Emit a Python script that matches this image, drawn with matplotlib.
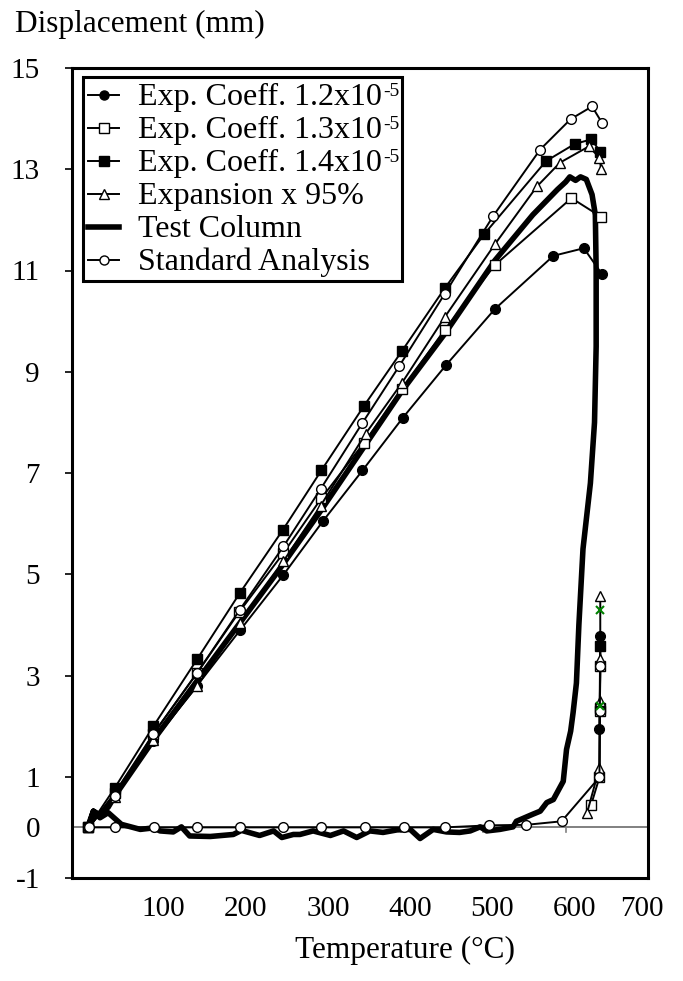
import matplotlib
matplotlib.use("Agg")
import matplotlib.pyplot as plt
from matplotlib.transforms import ScaledTranslation, Affine2D, IdentityTransform
from matplotlib.lines import Line2D
from matplotlib.patches import Rectangle

plt.rcParams['font.family'] = ['Liberation Serif', 'DejaVu Serif']
plt.rcParams['axes.unicode_minus'] = False

# ---------------- data (Temperature °C, Displacement mm) ----------------
# Exp. Coeff. 1.2x10^-5
t12_up = [20, 52, 99, 152, 204, 257, 305, 353, 402, 455, 514, 585, 622, 644]
d12_up = [0.0, 0.66, 1.7, 2.8, 3.89, 4.99, 6.05, 7.05, 8.09, 9.14, 10.24, 11.29, 11.44, 10.93]
t12_dn = [641, 642]
d12_dn = [1.95, 3.79]
# Exp. Coeff. 1.3x10^-5
t13_up = [20, 52, 99, 152, 203, 257, 303, 355, 401, 453, 514, 607, 643]
d13_up = [0.0, 0.68, 1.85, 3.05, 4.25, 5.42, 6.5, 7.6, 8.65, 9.83, 11.11, 12.43, 12.06]
t13_dn = [631, 641, 641.5, 642]
d13_dn = [0.45, 0.99, 2.29, 3.18]
# Exp. Coeff. 1.4x10^-5
t14_up = [20, 52, 99, 152, 204, 256, 303, 355, 401, 453, 501, 576, 611, 631, 642]
d14_up = [0.0, 0.78, 2.0, 3.32, 4.63, 5.87, 7.05, 8.33, 9.41, 10.65, 11.72, 13.16, 13.5, 13.59, 13.35]
t14_dn = [641.5, 642]
d14_dn = [2.35, 3.58]
# Expansion x 95%
t95_up = [20, 52, 99, 152, 204, 257, 302, 357, 401, 453, 514, 565, 593, 628, 641, 643]
d95_up = [0.0, 0.6, 1.72, 2.79, 4.04, 5.26, 6.35, 7.78, 8.78, 10.08, 11.52, 12.66, 13.13, 13.45, 13.23, 13.0]
t95_dn = [626, 641, 641.5, 642, 642]
d95_dn = [0.29, 1.18, 2.5, 3.33, 4.58]
# Standard Analysis
tsa_up = [20, 52, 99, 152, 204, 257, 302, 353, 398, 453, 512, 569, 606, 632, 644]
dsa_up = [0.0, 0.62, 1.85, 3.05, 4.3, 5.55, 6.68, 7.99, 9.12, 10.54, 12.08, 13.39, 13.99, 14.24, 13.92]
tsa_dn = [21, 52, 100, 152, 204, 256, 303, 356, 403, 453, 507, 552, 595, 641, 641.5, 642]
dsa_dn = [0.0, 0.0, 0.0, 0.0, 0.0, 0.0, 0.0, 0.0, 0.0, 0.0, 0.04, 0.05, 0.12, 0.99, 2.29, 3.18]
# extra single points (green x)
tx = [642, 641.5]
dx = [4.3, 2.4]
# Test Column (heating, failure, cooling)
ttc = [20, 26, 34, 44, 52, 100, 150, 200, 250, 300, 350, 400, 453, 514, 560, 590,
       600, 605, 612, 618, 625, 632, 636, 637, 637, 635, 630, 621, 616, 613, 609,
       606, 601, 597, 585, 577, 569, 560, 540, 536, 520, 504, 496, 484, 471, 455,
       439, 423, 411, 395, 378, 362, 346, 330, 314, 293, 277, 269, 255, 245, 228,
       206, 196, 168, 143, 133, 123, 107, 99, 83, 60, 44, 34, 26, 20]
dtc = [0.0, 0.32, 0.25, 0.4, 0.62, 1.75, 2.85, 3.95, 5.05, 6.2, 7.4, 8.6, 9.75, 11.2,
       12.1, 12.6, 12.75, 12.85, 12.78, 12.85, 12.8, 12.5, 12.1, 11.0, 9.5, 8.0, 6.8,
       5.5, 4.0, 2.85, 2.27, 1.9, 1.54, 0.91, 0.55, 0.49, 0.32, 0.26, 0.12, 0.01,
       -0.04, -0.07, 0.01, -0.07, -0.1, -0.09, -0.04, -0.22, -0.04, -0.05, -0.1,
       -0.07, -0.2, -0.07, -0.16, -0.07, -0.14, -0.14, -0.2, -0.07, -0.16, -0.06,
       -0.14, -0.18, -0.17, 0.01, -0.09, -0.07, -0.01, -0.04, 0.06, 0.29, 0.19, 0.32, 0.05]

labels = ['Exp. Coeff. 1.2x10', 'Exp. Coeff. 1.3x10', 'Exp. Coeff. 1.4x10',
          'Expansion x 95%', 'Test Column', 'Standard Analysis']
label_sup = ['-5', '-5', '-5', '', '', '']
xticks = [100, 200, 300, 400, 500, 600, 700]
yticks = [-1, 0, 1, 3, 5, 7, 9, 11, 13, 15]

# ---------------- figure ----------------
W, H = 683, 981
fig = plt.figure(figsize=(W / 100, H / 100), dpi=100)
ax = fig.add_axes([72 / W, 1 - 878 / H, (648 - 72) / W, (878 - 68) / H])
ax.set_xlim(0, 700)
ax.set_ylim(-1, 15)

LW = 1.4
MS = 7.0
MEW = 1.0
common = dict(color='black', lw=LW, mew=MEW, ms=MS, mec='black', zorder=3)

ax.axhline(0, color='#808080', lw=1.4, zorder=1)
for xt in xticks:
    ax.plot([xt, xt], [0, -0.09], color='#808080', lw=1.2, zorder=1)

ax.plot(ttc, dtc, color='black', lw=4.0, solid_joinstyle='round', zorder=2)

ax.plot(t12_up, d12_up, marker='o', mfc='black', **common)
ax.plot(t12_dn, d12_dn, marker='o', mfc='black', **common)
ax.plot(t13_up, d13_up, marker='s', mfc='white', **common)
ax.plot(t13_dn, d13_dn, marker='s', mfc='white', **common)
ax.plot(t14_up, d14_up, marker='s', mfc='black', **common)
ax.plot(t14_dn, d14_dn, marker='s', mfc='black', **common)
ax.plot(t95_up, d95_up, marker='^', mfc='white', **common)
ax.plot(t95_dn, d95_dn, marker='^', mfc='white', **common)
ax.plot(tsa_up, dsa_up, marker='o', mfc='white', **common)
ax.plot(tsa_dn, dsa_dn, marker='o', mfc='white', **common)
ax.plot(tx, dx, ls='none', marker='x', color='#008000', ms=6, mew=1.5, zorder=4)

# axes styling
for s in ax.spines.values():
    s.set_linewidth(2.2)
ax.set_xticks(xticks)
ax.set_yticks(yticks)
ax.tick_params(axis='x', length=0, pad=13, labelsize=21)
ax.tick_params(axis='y', direction='out', length=5, width=1.2, pad=18, labelsize=21)
ax.yaxis.get_major_ticks()[1].tick1line.set_visible(False)
for lab in ax.get_xticklabels():
    dx_px = -6 if lab.get_text() == '700' else 9
    lab.set_transform(lab.get_transform() + ScaledTranslation(dx_px / 100, 0, fig.dpi_scale_trans))

fig.text(15 / W, 1 - 24 / H, 'Displacement (mm)', fontsize=22.5, ha='left', va='center')
fig.text(405 / W, 1 - 950 / H, 'Temperature (°C)', fontsize=22.5, ha='center', va='center')

# ---------------- legend (Excel style box) ----------------
px = Affine2D().scale(1 / W, -1 / H).translate(0, 1) + fig.transFigure
box = Rectangle((83, 77), 319, 204, transform=px, facecolor='white', edgecolor='black',
                lw=2.2, zorder=10, clip_on=False)
fig.add_artist(box)
styles = [dict(marker='o', mfc='black', lw=LW), dict(marker='s', mfc='white', lw=LW),
          dict(marker='s', mfc='black', lw=LW), dict(marker='^', mfc='white', lw=LW),
          dict(marker=None, lw=4.0), dict(marker='o', mfc='white', lw=LW)]
texts = []
for i, (lab, st) in enumerate(zip(labels, styles)):
    base = 105 + 33 * i
    yc = base - 10
    fig.add_artist(Line2D([88, 103.5, 119], [yc, yc, yc], transform=px, color='black',
                          mec='black', mew=MEW, ms=6.5, markevery=[1], zorder=11, **st))
    texts.append(fig.text(138 / W, 1 - base / H, lab, fontsize=23, ha='left',
                          va='baseline', zorder=12))

renderer = fig.canvas.get_renderer()
for t, sup in zip(texts, label_sup):
    if sup:
        bb = t.get_window_extent(renderer)
        fig.text(bb.x1 + 1, bb.y1, sup, transform=IdentityTransform(), fontsize=14,
                 ha='left', va='top', zorder=13)

fig.savefig('out.png', dpi=100)
